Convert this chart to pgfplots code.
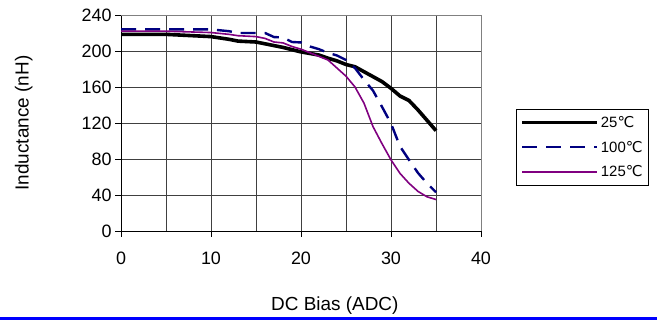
\documentclass[border=0pt]{standalone}
\usepackage{pgfplots}
\pgfplotsset{compat=1.18}
\usepackage{fontspec}
\setmainfont{Liberation Sans}
\newfontfamily\dejavu{DejaVu Sans}
\definecolor{navyline}{RGB}{0,0,128}
\definecolor{purpleline}{RGB}{128,0,128}
\begin{document}
\begin{tikzpicture}
\useasboundingbox (0,0) rectangle (657bp,320bp);
\fill[blue] (0,0) rectangle (657bp,2.5bp);
\begin{axis}[
  at={(121bp,89bp)}, anchor=south west,
  scale only axis, width=360bp, height=216bp,
  xmin=0, xmax=40, ymin=0, ymax=240,
  xtick={0,10,20,30,40}, minor xtick={5,15,25,35},
  ytick={0,40,...,240},
  axis lines=left, axis line style={-, black, line width=0.8bp},
  tick align=outside, major tick length=6bp, minor tick length=0pt,
  tick style={black, line width=0.6bp},
  xmajorgrids, xminorgrids, ymajorgrids,
  grid style={black!75, line width=0.6bp},
  minor grid style={black!75, line width=0.6bp},
  /pgf/number format/assume math mode=true,
  ticklabel style={font=\fontsize{18}{21}\selectfont},
  xticklabel style={yshift=-11bp},
  yticklabel style={xshift=0bp},
  xlabel={DC Bias (ADC)},
  ylabel={Inductance (nH)},
  every axis x label/.style={at={(axis description cs:0.594,-0.347)}, anchor=center, font=\fontsize{19}{22}\selectfont},
  every axis y label/.style={at={(axis description cs:-0.27,0.5)}, rotate=90, anchor=center, font=\fontsize{19}{22}\selectfont},
  legend style={at={(axis description cs:1.097,0.565)}, anchor=north west,
    draw=black, line width=0.8bp, font=\fontsize{15}{17}\selectfont,
    inner xsep=4bp, inner ysep=5bp, row sep=8bp,
    /tikz/every even column/.append style={column sep=0bp}},
  legend cell align=left,
  legend image code/.code={\draw[#1, line cap=butt] (0bp,0bp) -- (75bp,0bp);},
  clip=false,
]
\addplot[black, line width=3.6bp, line join=round] coordinates {
(0,218.5) (5,218.5) (10,216) (12,213) (13,211) (15,210) (16,208) (18,204)
(20,199) (22,195.5) (23,192) (24,189) (25,185) (26,182.5) (27,177) (28,171.5)
(29,166) (30,158.5) (31,150) (32,145) (33,134.5) (34,123) (35,111.5)};
\addlegendentry{25{\dejavu ℃}}
\addplot[navyline, line width=2.4bp, dash pattern=on 15bp off 9bp] coordinates {
(0,224) (10,224) (12,222) (13,220) (16,220) (17,215.5) (18,215) (19,210)
(20,209.5) (21,205) (22,202) (23,198) (24,195) (25,190) (26,181) (27,168)
(28,156) (29,138) (30,119.5) (31,94) (32,79) (33,64.5) (34,53) (35,43)};
\addlegendentry{100{\dejavu ℃}}
\addplot[purpleline, line width=1.6bp] coordinates {
(0,222) (5,222) (10,220.5) (12,218.5) (13,217) (15,216) (16,214) (17,210)
(18,209) (19,205) (20,202) (21,198) (22,194) (23,190) (24,181) (25,172)
(26,160) (27,142) (28,116) (29,97) (30,79) (31,64) (32,53) (33,44)
(34,38) (35,35)};
\addlegendentry{125{\dejavu ℃}}
\draw[gray, line width=0.8bp] (rel axis cs:0,1) -- (rel axis cs:1,1) -- (rel axis cs:1,0);
\end{axis}
\end{tikzpicture}
\end{document}
